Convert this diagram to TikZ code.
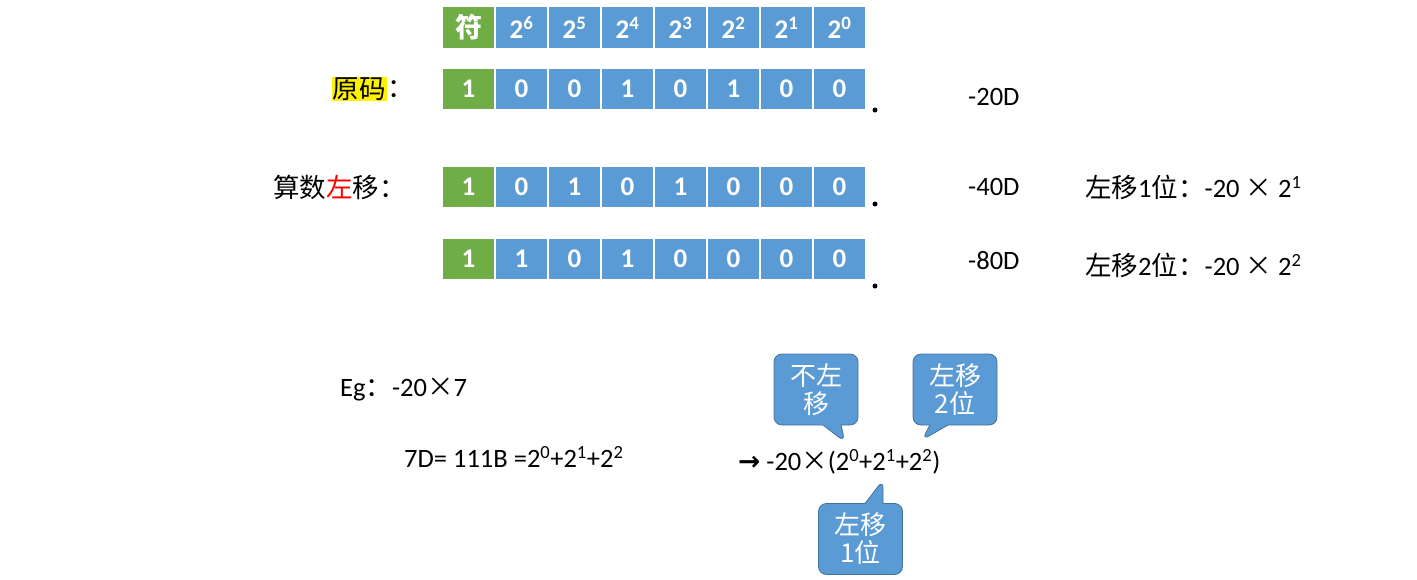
\documentclass[tikz,border=0pt]{standalone}
\usepackage{fontspec}
\setmainfont{Carlito}
\newfontfamily\cjk{Noto Sans CJK SC}
\newfontfamily\symb{DejaVu Sans}
\usetikzlibrary{positioning,shapes.callouts}
\definecolor{bitblue}{HTML}{5B9BD5}
\definecolor{signgreen}{HTML}{70AD47}
\definecolor{calloutedge}{HTML}{41719C}
\tikzset{
  bitcell/.style={fill=bitblue,draw=white,line width=1.2pt,minimum width=53pt,minimum height=42pt,
    inner sep=0pt,text=white,font=\fontsize{27}{27}\selectfont\bfseries},
  signcell/.style={bitcell,fill=signgreen},
  txt/.style={inner sep=0pt,anchor=west,font=\fontsize{26.5}{30}\selectfont},
  bubble/.style={rectangle callout,rounded corners=8pt,fill=bitblue,draw=calloutedge,line width=0.8pt,
    text=white,align=center,minimum width=84pt,minimum height=71pt,inner sep=2pt,
    callout pointer width=18pt,font=\cjk\fontsize{26}{28}\selectfont}
}
\begin{document}
\begin{tikzpicture}[x=1pt,y=-1pt]
  \useasboundingbox (0,0) rectangle (1417,579);
  % weights of the bits
  \node[signcell] (hdr0) at (468.5,27.5) {\cjk 符};
  \foreach \e [count=\i] in {6,5,4,3,2,1,0}
    \node[bitcell] (hdr\i) at (468.5+53*\i,27.5) {2\textsuperscript{\e}};
  % the three codes
  \foreach \row/\ypos/\doty/\bits in {orig/89/110/{0,0,1,0,1,0,0},
      shla/187/204/{0,1,0,1,0,0,0}, shlb/259/286/{1,0,1,0,0,0,0}} {
    \node[signcell] (\row0) at (468.5,\ypos) {1};
    \foreach \b [count=\i] in \bits
      \node[bitcell] (\row\i) at (468.5+53*\i,\ypos) {\b};
    \fill (875,\doty) circle (2.5pt);
  }
  % row labels
  \node[txt,fill=yellow,inner sep=1pt,anchor=east] (origname) at (387,89) {\cjk 原码};
  \node[txt,right=0pt of origname] (origcolon) {\cjk ：};
  \node[txt,anchor=east] (shlname) at (406,187) {\cjk 算数\textcolor{red}{左}移：};
  \node[txt] (origval) at (968,97) {-20D};
  \node[txt] (shlaval) at (968,187) {-40D};
  \node[txt] (shlbval) at (968,261) {-80D};
  \node[txt] (shlanote) at (1085,187) {{\cjk 左移}1{\cjk 位：}-20 {\cjk ×} 2\textsuperscript{1}};
  \node[txt] (shlbnote) at (1085,265) {{\cjk 左移}2{\cjk 位：}-20 {\cjk ×} 2\textsuperscript{2}};
  % example
  \node[txt] (egline) at (340,390) {Eg{\cjk ：}-20{\cjk ×}7};
  \node[txt] (sevenline) at (404,457) {7D= 111B =2\textsuperscript{0}+2\textsuperscript{1}+2\textsuperscript{2}};
  \node[txt] (result) at (738,462) {{\symb\bfseries →} -20{\cjk ×}(2\textsuperscript{0}+2\textsuperscript{1}+2\textsuperscript{2})};
  % callouts
  \coordinate (tipnone) at (845,442);
  \coordinate (tiptwo) at (922,440);
  \coordinate (tipone) at (883,480);
  \node[bubble,callout absolute pointer={(tipnone)}] (bubnone) at (816,389.5) {不左\\移};
  \node[bubble,callout absolute pointer={(tiptwo)}] (bubtwo) at (955,389.5) {左移\\2位};
  \node[bubble,callout absolute pointer={(tipone)}] (bubone) at (860.5,539) {左移\\1位};
\end{tikzpicture}
\end{document}
